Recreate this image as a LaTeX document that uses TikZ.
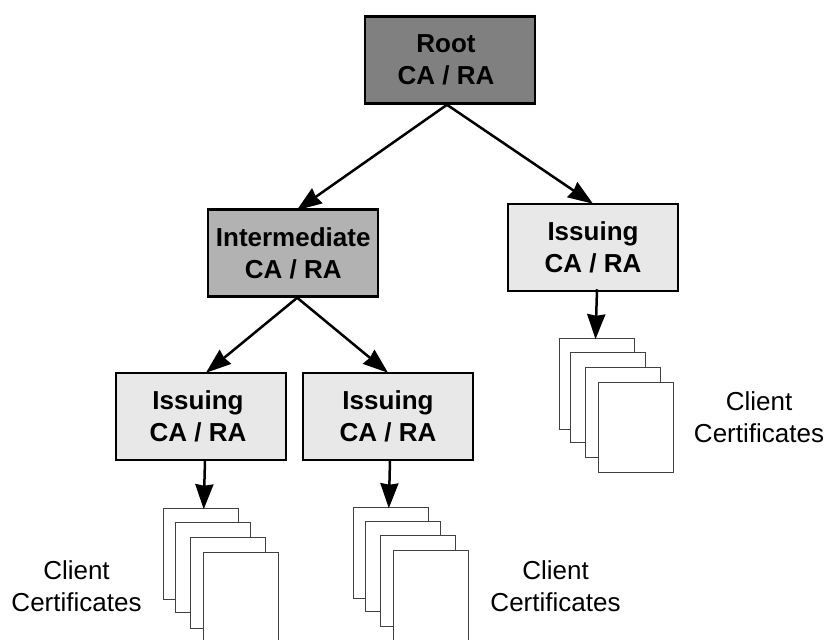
\documentclass[tikz,border=0pt]{standalone}
\usepackage{fontspec}
\setmainfont{Liberation Sans}
\usetikzlibrary{arrows.meta}

\tikzset{
    ca/.style = {draw, line width = 2.5pt, minimum width = 170pt, minimum height = 87pt, inner sep = 0pt, align = center, font = \fontsize{26}{32}\selectfont\bfseries},
    sheet/.style = {draw = black!75, fill = white, line width = 1pt, minimum width = 75pt, minimum height = 90.5pt, inner sep = 0pt},
    label/.style = {align = center, font = \fontsize{26}{32}\selectfont},
    link/.style = {line width = 2.5pt, -{Stealth[length = 25pt, width = 18pt, inset = 1.5pt]}}
}

\begin{document}
\begin{tikzpicture}[x = 1pt, y = -1pt]
    \useasboundingbox (0,0) rectangle (826,639);
    % boxes
    \node[ca, fill = black!50] (ROOT) at (450,60) {Root\hspace*{8pt}\\CA / RA\hspace*{8pt}};
    \node[ca, fill = black!30] (INTER) at (293.2,253) {Intermediate\\CA / RA};
    \node[ca, fill = black!9] (ISS1) at (593,247.5) {Issuing\\CA / RA};
    \node[ca, fill = black!9] (ISS2) at (201,416.5) {Issuing\hspace*{6pt}\\CA / RA\hspace*{6pt}};
    \node[ca, fill = black!9] (ISS3) at (388,416.5) {Issuing\\CA / RA};
    % sheets
    \node[sheet] (S1) at (596.5,384) {};
    \node[sheet] (S2) at (608,397.5) {};
    \node[sheet] (S3) at (623,412.5) {};
    \node[sheet] (S4) at (636,427.5) {};
    \node[sheet] (S5) at (201.2,554) {};
    \node[sheet] (S6) at (212.7,567.5) {};
    \node[sheet] (S7) at (228,583) {};
    \node[sheet] (S8) at (241,598) {};
    \node[sheet] (S9) at (390.8,553) {};
    \node[sheet] (S10) at (402.5,566.5) {};
    \node[sheet] (S11) at (417.5,581) {};
    \node[sheet] (S12) at (430.8,596) {};
    % labels
    \node[label] (L1) at (759,417) {Client\\Certificates};
    \node[label] (L2) at (76.5,586) {Client\\Certificates};
    \node[label] (L3) at (555.5,586) {Client\\Certificates};
    % arrows
    \draw[link] ([xshift = -3pt]ROOT.south) -- ([xshift = 3.5pt, yshift = -2pt]INTER.north);
    \draw[link] ([xshift = -3pt]ROOT.south) -- ([yshift = -1pt]ISS1.north);
    \draw[link] ([xshift = 4pt]INTER.south) -- ([xshift = 5pt, yshift = -1pt]ISS2.north);
    \draw[link] ([xshift = 4pt]INTER.south) -- ([yshift = -1pt]ISS3.north);
    \draw[link] ([xshift = 4pt, yshift = 3pt]ISS1.south) -- ([xshift = -1pt, yshift = -1pt]S1.north);
    \draw[link] ([xshift = 4pt, yshift = 1pt]ISS2.south) -- ([xshift = 2.5pt, yshift = -1pt]S5.north);
    \draw[link] ([xshift = 2pt, yshift = 1pt]ISS3.south) -- ([xshift = -2pt, yshift = -1pt]S9.north);
\end{tikzpicture}
\end{document}
